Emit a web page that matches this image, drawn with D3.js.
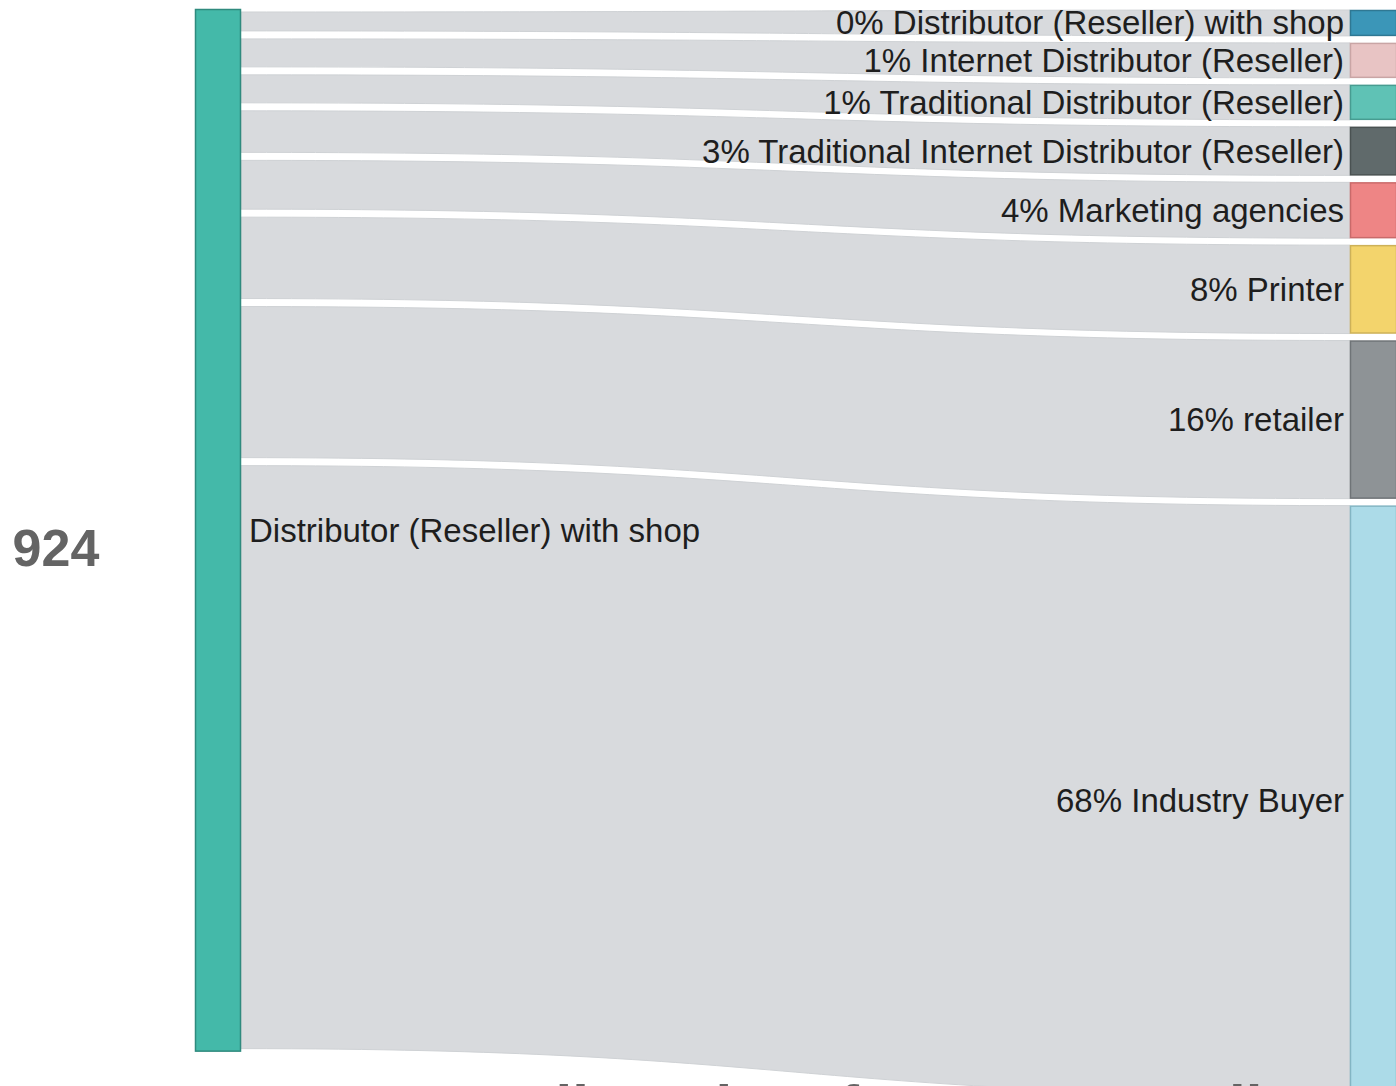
<!DOCTYPE html>
<html>
<head>
<meta charset="utf-8">
<script src="https://cdn.jsdelivr.net/npm/d3@7/dist/d3.min.js"></script>
<style>
  html, body { margin: 0; padding: 0; background: #ffffff; overflow: hidden; }
  svg { display: block; font-family: "Liberation Sans", Arial, Helvetica, sans-serif; }
</style>
</head>
<body>
<svg id="chart" width="1396" height="1086"></svg>
<script>
// Source node and its total
const sourceName = "Distributor (Reseller) with shop";
const sourceTotal = 924;

// Target channels, top to bottom
const targets = [
  "Distributor (Reseller) with shop",
  "Internet Distributor (Reseller)",
  "Traditional Distributor (Reseller)",
  "Traditional Internet Distributor (Reseller)",
  "Marketing agencies",
  "Printer",
  "retailer",
  "Industry Buyer"
];

// Number of responses flowing to each channel
const flowValues = [1, 11, 11, 26, 34, 70, 147, 624];

// Node colours for each target channel
const targetColors = ["#3b96b8", "#e8c4c4", "#5fc2b5", "#606a6b", "#ee8585", "#f3d46c", "#8e9396", "#acdbe8"];
const targetStroke = ["#2f7893", "#c9a5a5", "#479c91", "#4a5252", "#c96a6a", "#cdb158", "#6f7477", "#83b5c3"];

const bottomTitle = "resellers then focus on resellers";

const svg = d3.select("#chart");

// layout constants
const nodeW = 46;
const srcX = 195, srcTop = 9, inset = 3;
const tgtX = 1350, tgtTop = 10;
const gapL = 8, gapR = 7;

const vmax = d3.max(flowValues);
// band thickness at the source side and at the target side
const leftBand = d3.scaleLinear().domain([0, vmax]).range([18, 583]);
const rightBand = d3.scaleLinear().domain([0, vmax]).range([25, 590]);

// stack the bands
let yl = srcTop + inset, yr = tgtTop;
const flows = flowValues.map((v, i) => {
  const hl = leftBand(v), hr = rightBand(v);
  const f = { name: targets[i], value: v, i,
    y0t: yl, y0b: yl + hl, y1t: yr, y1b: yr + hr };
  yl += hl + gapL;
  yr += hr + gapR;
  return f;
});
const srcBottom = yl - gapL + inset;

const x0 = srcX + nodeW, x1 = tgtX;
const xm = d3.interpolateNumber(x0, x1)(0.5);

function bandPath(f) {
  const p = d3.path();
  p.moveTo(x0, f.y0t);
  p.bezierCurveTo(xm, f.y0t, xm, f.y1t, x1, f.y1t);
  p.lineTo(x1, f.y1b);
  p.bezierCurveTo(xm, f.y1b, xm, f.y0b, x0, f.y0b);
  p.closePath();
  return p.toString();
}

// links
svg.append("g").selectAll("path")
  .data(flows)
  .join("path")
  .attr("d", bandPath)
  .attr("fill", "#d8dadd")
  .attr("stroke", "#cfd2d5")
  .attr("stroke-width", 1);

// source node
svg.append("rect")
  .attr("x", srcX + 0.5).attr("y", srcTop + 0.5)
  .attr("width", nodeW - 1).attr("height", srcBottom - srcTop - 1)
  .attr("fill", "#44b9a9")
  .attr("stroke", "#2f8a7e")
  .attr("stroke-width", 1.5);

// target nodes
svg.append("g").selectAll("rect")
  .data(flows)
  .join("rect")
  .attr("x", tgtX + 0.5)
  .attr("y", d => d.y1t + 0.5)
  .attr("width", nodeW)
  .attr("height", d => d.y1b - d.y1t - 1)
  .attr("fill", d => targetColors[d.i])
  .attr("stroke", d => targetStroke[d.i])
  .attr("stroke-width", 1.5);

// target labels with share of total
const pct = d3.format(".0%");
svg.append("g").selectAll("text")
  .data(flows)
  .join("text")
  .attr("x", tgtX - 6)
  .attr("y", d => (d.y1t + d.y1b) / 2)
  .attr("text-anchor", "end")
  .attr("dominant-baseline", "central")
  .attr("font-size", 33)
  .attr("fill", "#1e1e1e")
  .text(d => `${pct(d.value / sourceTotal)} ${d.name}`);

// source label
svg.append("text")
  .attr("x", srcX + nodeW + 8)
  .attr("y", (srcTop + srcBottom) / 2)
  .attr("dominant-baseline", "central")
  .attr("font-size", 33)
  .attr("fill", "#1e1e1e")
  .text(sourceName);

// total count
svg.append("text")
  .attr("x", 56)
  .attr("y", (srcTop + srcBottom) / 2 + 18)
  .attr("text-anchor", "middle")
  .attr("dominant-baseline", "central")
  .attr("font-size", 52)
  .attr("font-weight", "bold")
  .attr("fill", "#646464")
  .text(d3.format("d")(sourceTotal));

// title below the diagram
svg.append("text")
  .attr("x", 432)
  .attr("y", 1127)
  .attr("font-size", 60)
  .attr("font-weight", "bold")
  .attr("fill", "#646464")
  .text(bottomTitle);
</script>
</body>
</html>
